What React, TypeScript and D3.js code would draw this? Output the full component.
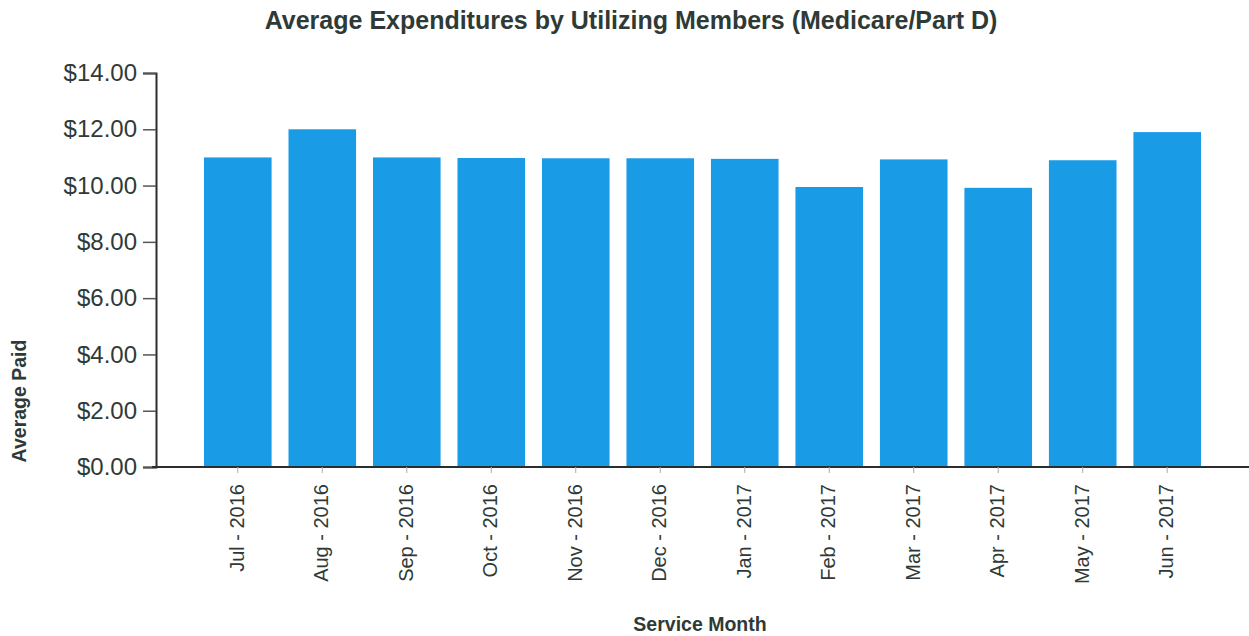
import { useEffect, useRef } from 'react'
import * as d3 from 'd3'

const months = [
  'Jul - 2016', 'Aug - 2016', 'Sep - 2016', 'Oct - 2016', 'Nov - 2016', 'Dec - 2016',
  'Jan - 2017', 'Feb - 2017', 'Mar - 2017', 'Apr - 2017', 'May - 2017', 'Jun - 2017',
]
const avgPaid = [11.0, 12.0, 11.0, 10.98, 10.97, 10.97, 10.95, 9.95, 10.93, 9.92, 10.9, 11.9]
const yTicks = [0, 2, 4, 6, 8, 10, 12, 14]

export default function App() {
  const svgRef = useRef<SVGSVGElement>(null)

  useEffect(() => {
    if (!svgRef.current) return
    const width = 1249
    const height = 636
    const textColor = '#2f3a36'
    const font = 'Liberation Sans, Arial, sans-serif'

    const svg = d3.select(svgRef.current)
    svg.selectAll('*').remove()
    svg.attr('width', width).attr('height', height).style('font-family', font)

    const x = d3.scaleBand<string>()
      .domain(months)
      .range([204, 1201])
      .paddingInner(0.2)
      .paddingOuter(0)

    const y = d3.scaleLinear()
      .domain([0, 14])
      .range([467, 73])

    // bars
    svg.append('g')
      .selectAll('rect')
      .data(months)
      .join('rect')
      .attr('x', d => x(d)!)
      .attr('width', x.bandwidth())
      .attr('y', (d, i) => y(avgPaid[i]))
      .attr('height', (d, i) => y(0) - y(avgPaid[i]))
      .attr('fill', '#1a9be6')

    // y axis
    const yAxis = svg.append('g')
      .attr('transform', 'translate(156,0)')
      .call(d3.axisLeft(y).tickValues(yTicks).tickSize(13).tickPadding(6).tickFormat(d => d3.format('$.2f')(d as number)))
    yAxis.select('.domain').attr('stroke', '#2a2f2d').attr('stroke-width', 2)
    yAxis.selectAll('.tick line').attr('stroke', '#555').attr('stroke-width', 1.5)
    yAxis.selectAll('.tick text')
      .attr('fill', textColor)
      .attr('font-size', 24)
      .attr('font-family', font)

    // x axis line
    svg.append('line')
      .attr('x1', 152).attr('x2', 1249)
      .attr('y1', y(0)).attr('y2', y(0))
      .attr('stroke', '#2a2f2d')
      .attr('stroke-width', 2)

    // x ticks and labels
    const xg = svg.append('g')
    months.forEach(m => {
      const cx = x(m)! + x.bandwidth() / 2
      xg.append('line')
        .attr('x1', cx).attr('x2', cx)
        .attr('y1', y(0)).attr('y2', y(0) + 6)
        .attr('stroke', '#aaa')
      xg.append('text')
        .text(m)
        .attr('transform', `translate(${cx + 6},${y(0) + 17}) rotate(-90)`)
        .attr('text-anchor', 'end')
        .attr('fill', textColor)
        .attr('font-size', 20)
    })

    // title
    svg.append('text')
      .text('Average Expenditures by Utilizing Members (Medicare/Part D)')
      .attr('x', 631)
      .attr('y', 29)
      .attr('text-anchor', 'middle')
      .attr('fill', textColor)
      .attr('font-size', 25)
      .attr('font-weight', 'bold')

    // axis titles
    svg.append('text')
      .text('Average Paid')
      .attr('transform', 'translate(26,401) rotate(-90)')
      .attr('text-anchor', 'middle')
      .attr('fill', textColor)
      .attr('font-size', 19.5)
      .attr('font-weight', 'bold')

    svg.append('text')
      .text('Service Month')
      .attr('x', 700)
      .attr('y', 631)
      .attr('text-anchor', 'middle')
      .attr('fill', textColor)
      .attr('font-size', 19.5)
      .attr('font-weight', 'bold')
  }, [])

  return (
    <div style={{ position: 'absolute', left: 0, top: 0, background: '#fff' }}>
      <svg ref={svgRef}></svg>
    </div>
  )
}
